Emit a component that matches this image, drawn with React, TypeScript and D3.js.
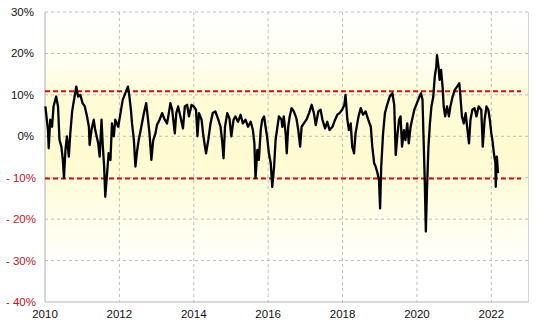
import React from "react";
import * as d3 from "d3";

// decimal years and values (%)
const years: number[] = [
  2010.01, 2010.08, 2010.10, 2010.14, 2010.19, 2010.23, 2010.30, 2010.35, 2010.39, 2010.44,
  2010.48, 2010.51, 2010.55, 2010.59, 2010.64, 2010.68, 2010.73, 2010.78, 2010.84, 2010.89,
  2010.95, 2011.01, 2011.07, 2011.13, 2011.18, 2011.20, 2011.25, 2011.31, 2011.35, 2011.43,
  2011.47, 2011.52, 2011.55, 2011.59, 2011.62, 2011.67, 2011.71, 2011.76, 2011.80, 2011.85,
  2011.89, 2011.97, 2012.03, 2012.09, 2012.16, 2012.23, 2012.27, 2012.31, 2012.34, 2012.39,
  2012.43, 2012.48, 2012.52, 2012.59, 2012.66, 2012.72, 2012.77, 2012.81, 2012.86, 2012.91,
  2012.97, 2013.01, 2013.08,
  2013.15, 2013.22, 2013.28, 2013.33, 2013.37, 2013.42, 2013.49, 2013.53, 2013.58, 2013.64,
  2013.71, 2013.76, 2013.82, 2013.87, 2013.94, 2014.00, 2014.06, 2014.10, 2014.14, 2014.21,
  2014.25, 2014.30, 2014.33, 2014.39, 2014.45, 2014.51, 2014.58, 2014.66, 2014.72, 2014.76,
  2014.80, 2014.84, 2014.90, 2014.96, 2015.01, 2015.07, 2015.12, 2015.19, 2015.26, 2015.32,
  2015.39, 2015.46, 2015.53, 2015.59, 2015.63, 2015.66, 2015.71, 2015.75, 2015.80, 2015.84,
  2015.89, 2015.93, 2015.97, 2016.02, 2016.07, 2016.11, 2016.16, 2016.20, 2016.25, 2016.29,
  2016.36,
  2016.38, 2016.42, 2016.47, 2016.50, 2016.54, 2016.58, 2016.63, 2016.69, 2016.76, 2016.81,
  2016.86, 2016.90, 2016.96, 2017.03, 2017.10, 2017.17, 2017.23, 2017.28, 2017.35, 2017.41,
  2017.46, 2017.53, 2017.59, 2017.65, 2017.73, 2017.80, 2017.86, 2017.92, 2017.99, 2018.05,
  2018.08, 2018.13, 2018.17, 2018.22, 2018.26, 2018.31, 2018.35, 2018.43, 2018.49, 2018.55,
  2018.62, 2018.69, 2018.76, 2018.80, 2018.85, 2018.89, 2018.94, 2018.98, 2019.01, 2019.04,
  2019.09, 2019.14, 2019.20, 2019.27, 2019.34, 2019.39, 2019.43, 2019.48, 2019.52,
  2019.56, 2019.60, 2019.65, 2019.69, 2019.74, 2019.78, 2019.83, 2019.87, 2019.93, 2020.00,
  2020.07, 2020.11, 2020.15, 2020.18, 2020.21, 2020.24, 2020.27, 2020.31, 2020.35, 2020.39,
  2020.44, 2020.48, 2020.52, 2020.54, 2020.58, 2020.61, 2020.65, 2020.69, 2020.72, 2020.76,
  2020.81, 2020.86, 2020.90, 2020.96, 2021.02, 2021.08, 2021.14, 2021.17, 2021.21, 2021.26,
  2021.31, 2021.35, 2021.40, 2021.44, 2021.49, 2021.55, 2021.60, 2021.66, 2021.73, 2021.77,
  2021.82, 2021.87, 2021.92, 2021.96, 2022.00, 2022.03, 2022.07, 2022.11, 2022.12, 2022.15,
  2022.18,
];

const values: number[] = [
  7.2, 1.5, -2.9, 4.0, 2.3, 7.2, 9.6, 7.2, -0.9, -2.5,
  -5.7, -10.1, -3.3, 0.0, -4.9, 0.7, 6.0, 8.8, 12.0, 9.6,
  10.0, 8.0, 7.2, 4.8, 2.3, -2.1, 1.5, 4.0, 1.5, -1.7,
  -4.9, 4.0, -1.7, -7.3, -14.6, -8.9, -4.1, -5.7, 3.1, 0.0,
  4.0, 2.3, 5.6, 8.8, 10.4, 12.0, 9.6, 6.4, 3.1, -0.9,
  -7.3, -3.3, -0.9, 2.3, 5.6, 8.0, 4.0, 0.7, -5.7, -0.9,
  0.7, 2.7, 4.0,
  5.6, 4.0, 3.1, 5.6, 8.0, 6.4, 0.7, 5.6, 7.2, 4.8,
  1.9, 7.2, 7.6, 4.8, 7.6, 7.2, 6.4, 0.0, 5.6, 4.0,
  0.7, -2.5, -4.1, -0.9, 3.1, 5.6, 6.0, 4.0, 2.3, -0.9,
  -5.3, 2.3, 5.6, 4.3, 0.0, 4.0, 4.8, 3.5, 5.2, 3.1,
  4.0, 2.3, 3.5, 1.5, -1.7, -10.1, -3.3, -5.7, 1.5, 4.0,
  4.8, 2.3, 0.0, -4.1, -6.5, -12.2, -7.3, -0.9, 2.3, 4.8,
  4.0,
  2.3, 4.8, 0.7, -4.1, 2.3, 4.8, 6.8, 6.0, 4.3, 1.5,
  -2.5, 2.3, 3.1, 4.0, 5.6, 7.6, 5.6, 2.7, 6.0, 6.4,
  4.0, 1.9, 3.5, 1.5, 2.3, 4.0, 5.2, 5.6, 6.4, 7.6,
  10.0, 4.0, 1.5, 3.1, -2.5, -4.1, 0.7, 4.8, 6.8, 5.2,
  6.0, 4.0, 2.3, -2.5, -6.5, -7.3, -8.9, -10.5, -17.4, -7.3,
  0.7, 5.6, 7.6, 9.6, 10.4, 7.6, -4.5, 0.7, 4.0,
  4.8, -2.5, 1.5, -0.9, 3.1, -1.7, 2.3, 4.0, 6.4, 8.0,
  9.6, 10.4, 8.8, -0.9, -10.5, -23.0, -13.0, -2.5, 3.1, 7.2,
  9.6, 14.4, 16.8, 19.6, 16.8, 13.6, 16.0, 12.0, 7.2, 4.8,
  7.2, 4.8, 7.2, 9.6, 11.2, 12.0, 12.8, 9.6, 4.8, 3.1,
  5.6, 2.3, -1.7, 4.0, 6.4, 6.8, 4.8, 7.2, 6.4, -2.5,
  4.0, 7.2, 6.4, 4.0, 0.7, -0.9, -4.1, -6.5, -12.2, -4.9,
  -8.9,
];

const yTicks: number[] = [30, 20, 10, 0, -10, -20, -30, -40];
const xTicks: number[] = [2010, 2012, 2014, 2016, 2018, 2020, 2022];
const upperBand = 10.9;
const lowerBand = -10.2;

export default function App() {
  const W = 540, H = 333;
  const left = 45, right = 528.5, top = 12, bottom = 302;
  const x = d3.scaleLinear().domain([2010, 2023]).range([left, right]);
  const y = d3.scaleLinear().domain([-40, 30]).range([bottom, top]);
  const data = years.map((yr, i) => [yr, values[i]] as [number, number]);
  const line = d3.line<[number, number]>().x(d => x(d[0])).y(d => y(d[1]));
  const font = "'Liberation Sans', Arial, Helvetica, sans-serif";

  return (
    <svg width={W} height={H} style={{ position: "absolute", left: 0, top: 0, background: "#fff" }}>
      <defs>
        <linearGradient id="bg" x1="0" y1="0" x2="0" y2="1">
          <stop offset="0" stopColor="#ffffff" />
          <stop offset="0.18" stopColor="#fffef0" />
          <stop offset="0.3" stopColor="#fffbd6" />
          <stop offset="0.5" stopColor="#fffad0" />
          <stop offset="0.66" stopColor="#fffde4" />
          <stop offset="0.88" stopColor="#ffffff" />
          <stop offset="1" stopColor="#ffffff" />
        </linearGradient>
      </defs>
      <rect x={left} y={top} width={right - left} height={bottom - top} fill="url(#bg)" />
      {yTicks.filter(t => t > -40).map(t => (
        <line key={"gy" + t} x1={left} x2={right} y1={y(t)} y2={y(t)}
          stroke="#bdbdbd" strokeWidth={1} strokeDasharray="3,3" />
      ))}
      {xTicks.filter(t => t > 2010).map(t => (
        <line key={"gx" + t} x1={x(t)} x2={x(t)} y1={top} y2={bottom}
          stroke="#bdbdbd" strokeWidth={1} strokeDasharray="3,3" />
      ))}
      <line x1={right} x2={right} y1={top} y2={bottom} stroke="#d4d4d4" strokeWidth={1} />
      <line x1={left} x2={left} y1={top} y2={bottom} stroke="#b0b0b0" strokeWidth={1} />
      <line x1={left} x2={right} y1={bottom} y2={bottom} stroke="#b0b0b0" strokeWidth={1} />
      {[upperBand, lowerBand].map(v => (
        <line key={"b" + v} x1={left} x2={x(2022.8)} y1={y(v)} y2={y(v)}
          stroke="#cc1111" strokeWidth={2} strokeDasharray="5,3" />
      ))}
      <path d={line(data) || ""} fill="none" stroke="#000" strokeWidth={2.3} strokeLinejoin="round" />
      {yTicks.map(t => (
        <text key={"ly" + t} x={t < 0 ? 36 : 34} y={y(t)} dy="0.35em" textAnchor="end"
          fontFamily={font} fontSize={11.5} fill={t < 0 ? "#c0141e" : "#111"}>
          {t < 0 ? `- ${Math.abs(t)}%` : `${t}%`}
        </text>
      ))}
      {xTicks.map(t => (
        <text key={"lx" + t} x={x(t)} y={318} textAnchor="middle"
          fontFamily={font} fontSize={11.5} fill="#111">{t}</text>
      ))}
    </svg>
  );
}
